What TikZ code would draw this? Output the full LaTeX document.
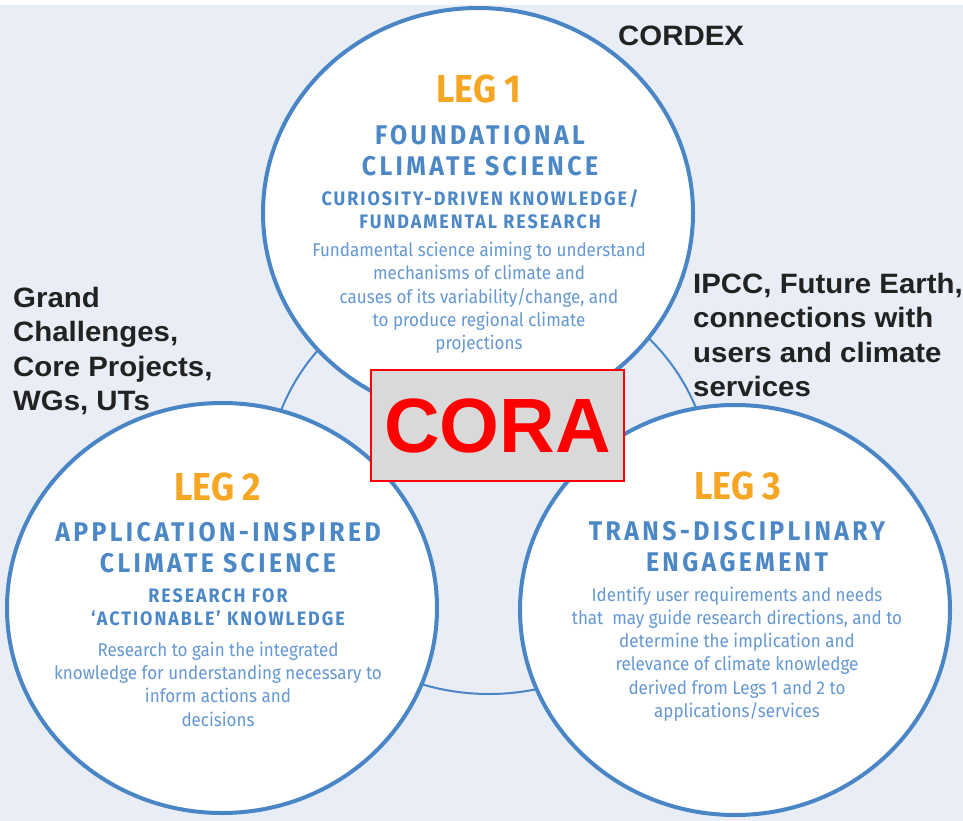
\documentclass[tikz,border=0pt]{standalone}
\usepackage{fontspec}
\usetikzlibrary{shapes.geometric}

\newfontfamily\legfont[FakeStretch=0.92]{Fira Sans}
\newfontfamily\headfont[FakeStretch=0.92,LetterSpace=12.5]{Fira Sans}
\newfontfamily\subfont[FakeStretch=0.92,LetterSpace=10]{Fira Sans}
\newfontfamily\notefont[FakeStretch=1.05]{Liberation Sans}
\newfontfamily\corafont{Liberation Sans}

\definecolor{bgblue}{RGB}{232,237,246}
\definecolor{legblue}{RGB}{74,134,197}
\definecolor{headblue}{RGB}{76,136,198}
\definecolor{bodyblue}{RGB}{100,152,210}
\definecolor{legorange}{RGB}{245,166,35}
\definecolor{ink}{RGB}{34,34,34}
\definecolor{coragray}{RGB}{217,217,217}

\tikzset{
  leg/.style={shape=ellipse,draw=legblue,fill=white,line width=4pt,
    minimum width=430pt,minimum height=410pt,inner sep=0pt},
  ring/.style={draw=legblue,line width=2pt},
  legno/.style={text=legorange,inner sep=0pt,
    font=\legfont\bfseries\fontsize{39}{39}\selectfont},
  leghead/.style={text=headblue,align=center,inner sep=0pt,
    font=\headfont\bfseries\fontsize{27}{31}\selectfont},
  legsub/.style={text=headblue,align=center,inner sep=0pt,
    font=\subfont\bfseries\fontsize{19.5}{23}\selectfont},
  legbody/.style={text=bodyblue,align=center,inner sep=0pt,
    font=\legfont\fontsize{18.5}{23.3}\selectfont},
  note/.style={text=ink,align=left,anchor=north west,inner sep=0pt,
    font=\notefont\bfseries\fontsize{28}{34.5}\selectfont},
  cora/.style={draw=red,fill=coragray,line width=2.5pt,text=red,
    minimum width=253pt,minimum height=111pt,
    font=\corafont\bfseries\fontsize{77}{77}\selectfont}
}

\begin{document}
\begin{tikzpicture}[x=1pt,y=-1pt]
\useasboundingbox (0,0) rectangle (963,821);
\fill[bgblue] (0,5) rectangle (963,821);

% thin ring behind the three legs
\draw[ring] (489,484) ellipse [x radius=222pt,y radius=210pt];

\node[leg] (leg1) at (478,213) {};
\node[leg] (leg2) at (222,608) {};
\node[leg] (leg3) at (735,610) {};

% leg 1
\node[legno] (no1) at (479,89) {LEG 1};
\node[leghead] (head1) at (480,150.5) {FOUNDATIONAL\\CLIMATE SCIENCE};
\node[legsub] (sub1) at (480,209.5) {CURIOSITY-DRIVEN KNOWLEDGE/\\FUNDAMENTAL RESEARCH};
\node[legbody] (body1) at (479,298) {Fundamental science aiming to understand\\mechanisms of climate and\\causes of its variability/change, and\\to produce regional climate\\projections};

% leg 2
\node[legno] (no2) at (218,487) {LEG 2};
\node[leghead] (head2) at (218,547.5) {APPLICATION-INSPIRED\\CLIMATE SCIENCE};
\node[legsub] (sub2) at (218,607.5) {RESEARCH FOR\\‘ACTIONABLE’ KNOWLEDGE};
\node[legbody] (body2) at (218,684) {Research to gain the integrated\\knowledge for understanding necessary to\\inform actions and\\decisions};

% leg 3
\node[legno] (no3) at (738,486) {LEG 3};
\node[leghead] (head3) at (737,546.5) {TRANS-DISCIPLINARY\\ENGAGEMENT};
\node[legbody] (body3) at (737,654) {Identify user requirements and needs\\that~ may guide research directions, and to\\determine the implication and\\relevance of climate knowledge\\derived from Legs 1 and 2 to\\applications/services};

% outside labels
\node[note] (grand) at (13,287) {Grand\\Challenges,\\Core Projects,\\WGs, UTs};
\node[note] (cordex) at (618,26) {CORDEX};
\node[note] (ipcc) at (693,273) {IPCC, Future Earth,\\connections with\\users and climate\\services};

\node[cora] (cora) at (497.5,425.5) {CORA};
\end{tikzpicture}
\end{document}
